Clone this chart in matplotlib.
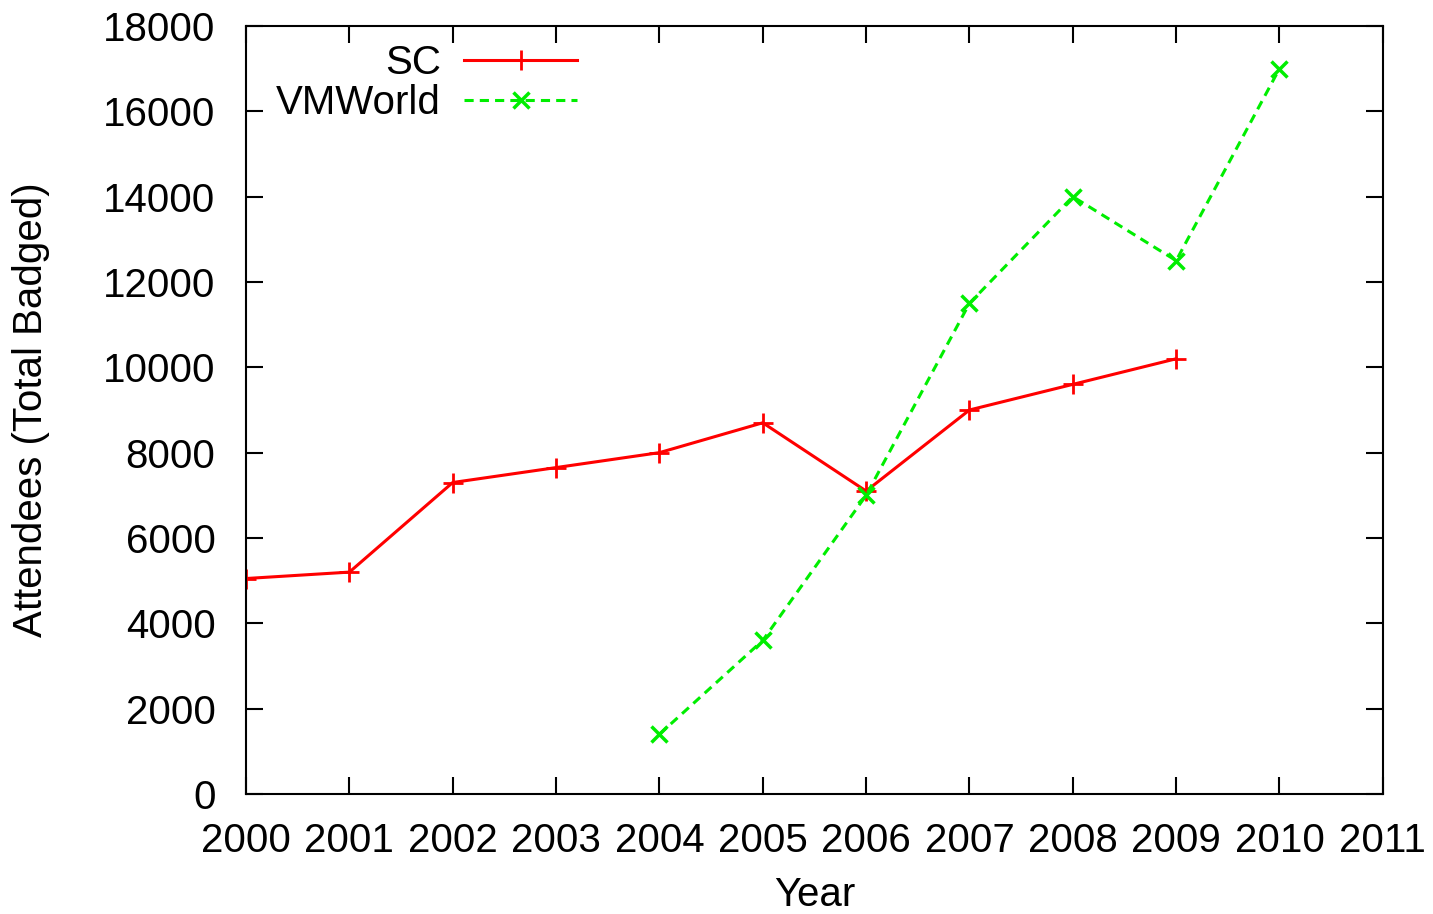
import matplotlib.pyplot as plt

plt.rcParams['font.family'] = ['Liberation Sans', 'DejaVu Sans']

years = [2000, 2001, 2002, 2003, 2004, 2005, 2006, 2007, 2008, 2009, 2010]
sc_years = years[:10]
sc_vals = [5050, 5200, 7300, 7650, 8000, 8700, 7100, 9000, 9600, 10200]
vm_years = years[4:]
vm_vals = [1400, 3600, 7000, 11500, 14000, 12500, 17000]
xticks = list(range(2000, 2012))
yticks = list(range(0, 18001, 2000))

fig = plt.figure(figsize=(14.33, 9.14), dpi=100)
ax = fig.add_axes([0.1717, 0.1313, 0.7933, 0.8403])

ax.plot(sc_years, sc_vals, color='#ff0000', lw=2.2, marker='+', ms=14, mew=2, label='SC')
ax.plot(vm_years, vm_vals, color='#00ee00', lw=2.2, ls=(0, (3, 2)), marker='x', ms=12, mew=2.5,
        label='VMWorld')

ax.set_xlim(2000, 2011)
ax.set_ylim(0, 18000)
ax.set_xticks(xticks)
ax.set_yticks(yticks)
ax.tick_params(direction='in', length=12, width=1.5, labelsize=29, top=True, right=True)
ax.tick_params(axis='x', pad=20)
ax.tick_params(axis='y', pad=22)
for s in ax.spines.values():
    s.set_linewidth(1.5)

ax.set_xlabel('Year', fontsize=29, labelpad=12)
ax.set_ylabel('Attendees (Total Badged)', fontsize=29, labelpad=38)

ax.legend(loc='upper left', markerfirst=False, frameon=False, fontsize=29, handlelength=2.8,
          borderaxespad=0.2, labelspacing=0.05, handletextpad=0.58,
          bbox_to_anchor=(0.005, 1.008))

plt.savefig('out.png')
